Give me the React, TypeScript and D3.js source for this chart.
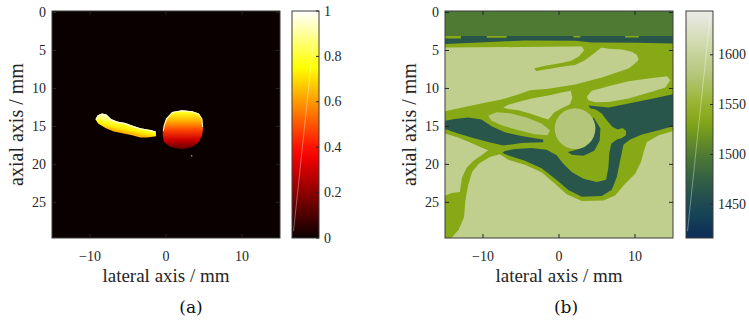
import React from 'react';
import * as d3 from 'd3';

type Pt = [number, number];

// 共通の軸 (mm)
const lateralDomain: [number, number] = [-15, 15];
const axialDomain: [number, number] = [-0.2, 29.7];
const lateralTicks = [-10, 0, 10];
const axialTicks = [0, 5, 10, 15, 20, 25];

// (a) 吸収マップ
const absorptionDomain: [number, number] = [0, 1];
const absorptionTicks = [0, 0.2, 0.4, 0.6, 0.8, 1];
const hotStops = [0, 0.375, 0.75, 1];
const hotColors = ['#0b0000', '#ff0000', '#ffff00', '#ffffff'];
const backgroundAbsorption = 0;

const stripTop: Pt[] = [
  [-9.29, 14.05], [-8.98, 13.53], [-8.41, 13.31], [-7.84, 13.44], [-7.23, 14.01], [-6.44, 14.36],
  [-5.34, 14.54], [-4.46, 14.89], [-3.36, 15.24], [-2.04, 15.46], [-1.34, 15.68],
];
const stripBottom: Pt[] = [
  [-1.3, 16.3], [-2.48, 16.47], [-3.36, 16.47], [-4.46, 16.17], [-5.56, 15.95], [-6.88, 15.68],
  [-7.97, 15.2], [-8.94, 14.63],
];
const stripLevels = [0.88, 0.78, 0.72, 0.64];
const stripRimLevel = 0.97;

const discTop: Pt[] = [
  [-0.42, 15.6], [-0.29, 14.85], [0.02, 13.97], [0.81, 13.09], [2.13, 12.87], [3.45, 13.0],
  [4.32, 13.31], [4.76, 13.97], [4.89, 15.07],
];
const discBottom: Pt[] = [
  [4.76, 16.17], [4.32, 17.05], [3.45, 17.71], [2.13, 18.01], [0.59, 17.71], [-0.29, 17.05], [-0.42, 16.2],
];
const discOffsets = [0, 0.06, 0.25, 0.5, 0.75, 1];
const discLevels = [1, 0.78, 0.65, 0.48, 0.3, 0.13];
const discRimLevel = 0.95;
const speck: Pt = [3.31, 18.8];
const speckLevel = 0.78;

// (b) 音速マップ
const speedDomain: [number, number] = [1416, 1644];
const speedTicks = [1450, 1500, 1550, 1600];
const speedStops = [1416, 1440, 1465, 1500, 1520, 1535, 1555, 1580, 1593, 1615, 1644];
const speedColors = ['#0a2c58', '#174456', '#29564b', '#4f7a34', '#6f9620', '#87a915', '#9bb73a', '#b4c67a', '#c1cf8e', '#d3dcb3', '#ebebe9'];

// 組織クラス: 0 dark, 1 band, 2 mid, 3 inclusion, 4 light
const tissueSpeeds = [1465, 1500, 1535, 1580, 1593];

const fullField: Pt[] = [[-15, -0.2], [15, -0.2], [15, 29.7], [-15, 29.7]];
const topBand: Pt[] = [[-15, -0.2], [15, -0.2], [15, 3.1], [-15, 3.1]];
const topStripe: Pt[] = [
  [-15, 3.41], [-12.9, 3.41], [-12.9, 3.1], [-9.5, 3.1], [-9.5, 3.32], [-6.9, 3.32], [-6.9, 3.1],
  [1.9, 3.1], [1.9, 3.3], [2.8, 3.3], [2.8, 3.1], [8.7, 3.1], [8.7, 3.3], [10.5, 3.3], [10.5, 3.1],
  [15, 3.1], [15, 4.07], [10.0, 3.98], [4.3, 3.94], [2.1, 3.72], [-4.5, 3.67], [-6.9, 3.8],
  [-11.1, 3.98], [-15, 4.16],
];
const upperIsland: Pt[] = [
  [-15, 4.6], [-4.93, 4.55], [2.11, 4.46], [3.87, 4.46], [5.63, 4.6], [6.51, 4.77], [8.27, 4.86],
  [9.59, 5.17], [10.25, 5.61], [10.47, 6.18], [10.12, 6.62], [9.15, 7.37], [5.63, 8.55], [2.11, 9.48],
  [-1.41, 10.05], [-3.83, 10.23], [-5.37, 10.8], [-7.56, 11.46], [-9.76, 11.9], [-11.96, 12.34], [-15, 13.0],
];
const tongue: Pt[] = [
  [3.0, 4.4], [5.8, 4.4], [4.6, 5.4], [3.4, 6.3], [2.1, 6.9], [0.35, 7.15], [-1.4, 7.45], [-3.0, 7.7],
  [-3.25, 7.35], [-1.8, 7.0], [0.3, 6.65], [1.6, 6.35], [2.6, 5.8], [3.3, 5.0],
];
const middleIsland: Pt[] = [
  [-7.34, 12.51], [-6.68, 12.16], [-5.37, 11.77], [-3.61, 11.33], [-1.41, 10.93], [0.35, 10.53],
  [1.54, 10.31], [1.76, 11.19], [1.45, 12.07], [0.35, 12.6], [-0.61, 13.15], [-1.41, 14.1],
  [-2.29, 13.83], [-3.83, 13.31], [-5.37, 12.87], [-6.68, 12.7],
];
const rightIsland: Pt[] = [
  [3.65, 11.11], [4.31, 10.31], [6.51, 9.7], [9.15, 9.04], [11.79, 8.69], [14.21, 8.38], [14.65, 8.91],
  [13.99, 9.87], [12.23, 10.45], [9.15, 11.33], [6.51, 11.77], [4.75, 11.81], [3.87, 11.55],
];
const lowerLeftIsland: Pt[] = [
  [-15, 15.95], [-13.28, 16.47], [-11.52, 17.18], [-10.2, 17.79], [-9.32, 18.15], [-10.2, 18.81],
  [-11.3, 19.55], [-12.18, 20.48], [-12.76, 21.75], [-13.06, 23.65], [-14.08, 23.78], [-15, 24.09],
];
const lowerIsland: Pt[] = [
  [-14.25, 29.8], [-13.2, 28.62], [-12.49, 26.94], [-12.32, 24.75], [-11.96, 22.77], [-11.44, 21.01],
  [-10.56, 19.91], [-9.1, 19.03], [-7.78, 18.67], [-6.68, 19.38], [-4.49, 20.04], [-2.29, 21.05],
  [-0.53, 22.55], [1.01, 23.95], [2.99, 24.83], [5.85, 24.75], [7.39, 24.09], [8.49, 22.77],
  [10.03, 21.23], [10.78, 19.69], [11.13, 18.37], [11.57, 17.05], [13.11, 16.17], [15, 15.59], [15, 29.8],
];
const lensInclusion: Pt[] = [
  [-9.32, 13.61], [-8.22, 13.13], [-6.46, 13.26], [-4.27, 13.83], [-2.29, 14.63], [-1.19, 15.51],
  [-1.49, 16.17], [-3.17, 16.03], [-5.37, 15.51], [-7.56, 14.85], [-8.88, 14.27],
];
const leftChannel: Pt[] = [
  [-15, 14.27], [-13.72, 14.01], [-11.96, 13.83], [-10.2, 14.1], [-8.88, 14.98], [-7.12, 15.77],
  [-4.93, 16.26], [-3.17, 16.56], [-2.07, 16.74], [-2.07, 17.09], [-4.93, 17.18], [-7.34, 17.53],
  [-9.32, 17.05], [-11.52, 16.47], [-13.28, 15.95], [-15, 15.33],
];
const mainChannel: Pt[] = [
  [3.87, 12.25], [6.51, 12.51], [9.15, 11.99], [12.23, 11.37], [15, 10.75], [15, 14.98], [13.11, 15.51],
  [10.91, 16.08], [9.37, 16.74], [8.49, 17.4], [8.05, 19.47], [7.61, 21.67], [6.95, 23.34], [5.63, 24.17],
  [2.99, 24.26], [1.23, 23.38], [-0.31, 22.06], [-2.29, 20.52], [-4.49, 19.51], [-6.46, 18.89],
  [-7.43, 18.5], [-7.12, 18.23], [-5.81, 17.97], [-3.61, 17.84], [-1.63, 18.06], [-0.31, 18.81],
  [0.57, 19.91], [1.67, 21.01], [3.21, 21.89], [4.97, 22.33], [6.2, 22.02], [6.51, 20.35], [6.6, 18.59],
  [6.87, 17.27], [7.61, 16.74], [8.27, 16.52], [8.8, 16.17], [8.84, 15.59], [8.36, 15.2], [7.75, 15.42],
  [7.04, 15.07], [6.29, 14.19], [5.63, 13.31], [4.84, 12.78], [4.09, 12.6],
];
const crescent: Pt[] = [
  [4.53, 13.75], [5.45, 15.29], [5.35, 16.9], [4.65, 18.2], [3.21, 18.85], [1.67, 18.72], [1.15, 18.37],
  [2.11, 18.15], [3.34, 17.71], [4.22, 16.74], [4.62, 15.51], [4.4, 14.27],
];
const roundInclusion = { cx: 2.11, cy: 15.29, r: 2.68 };

// 描画順 (後ろから)
const speedLayers: [Pt[], number][] = [
  [fullField, 2],
  [upperIsland, 4], [middleIsland, 4], [rightIsland, 4], [lowerLeftIsland, 4], [lowerIsland, 4],
  [tongue, 2],
  [lensInclusion, 3],
  [leftChannel, 0], [mainChannel, 0], [crescent, 0], [topStripe, 0],
  [topBand, 1],
];

const FONT = 'Liberation Serif';
const INK = '#262626';
const plotTop = 11;
const plotBottom = 238;
const plotWidth = 228;
const cbWidth = 27;

const hot = d3.scaleLinear<string>().domain(hotStops).range(hotColors).clamp(true);
const speedMap = d3.scaleLinear<string>().domain(speedStops).range(speedColors).clamp(true);

const centroid = (pts: Pt[]): Pt => [d3.mean(pts, d => d[0])!, d3.mean(pts, d => d[1])!];

type Scales = { x: d3.ScaleLinear<number, number>; y: d3.ScaleLinear<number, number> };

function Panel(props: {
  id: string; x0: number; cbX: number; cmap: (v: number) => string; cbDomain: [number, number];
  cbTicks: number[]; caption: string; captionX: number; render: (s: Scales) => React.ReactNode;
}) {
  const { id, x0, cbX, cmap, cbDomain, cbTicks, caption, captionX, render } = props;
  const x = d3.scaleLinear().domain(lateralDomain).range([x0, x0 + plotWidth]);
  const y = d3.scaleLinear().domain(axialDomain).range([plotTop, plotBottom]);
  const c = d3.scaleLinear().domain(cbDomain).range([plotBottom, plotTop]);
  const fmt = d3.format('d');
  const stops = d3.range(0, 1.0001, 0.05);
  const x1 = x0 + plotWidth;
  return (
    <g>
      <defs>
        <clipPath id={`${id}-clip`}>
          <rect x={x0} y={plotTop} width={plotWidth} height={plotBottom - plotTop} />
        </clipPath>
        <linearGradient id={`${id}-cb`} x1="0" y1="1" x2="0" y2="0">
          {stops.map(t => (
            <stop key={t} offset={t} stopColor={cmap(cbDomain[0] + t * (cbDomain[1] - cbDomain[0]))} />
          ))}
        </linearGradient>
      </defs>
      <g clipPath={`url(#${id}-clip)`}>{render({ x, y })}</g>
      <rect x={x0} y={plotTop} width={plotWidth} height={plotBottom - plotTop} fill="none" stroke="#3c3c3c" strokeWidth={1} />
      {lateralTicks.map(t => (
        <g key={t}>
          <line x1={x(t)} x2={x(t)} y1={plotBottom} y2={plotBottom - 4} stroke={INK} />
          <line x1={x(t)} x2={x(t)} y1={plotTop} y2={plotTop + 4} stroke={INK} />
          <text x={x(t)} y={plotBottom + 23} textAnchor="middle" fontSize={14} fill={INK} fontFamily={FONT}>{fmt(t)}</text>
        </g>
      ))}
      {axialTicks.map(t => (
        <g key={t}>
          <line x1={x0} x2={x0 + 4} y1={y(t)} y2={y(t)} stroke={INK} />
          <line x1={x1} x2={x1 - 4} y1={y(t)} y2={y(t)} stroke={INK} />
          <text x={x0 - 6} y={y(t)} textAnchor="end" dominantBaseline="central" fontSize={14} fill={INK} fontFamily={FONT}>{t}</text>
        </g>
      ))}
      <text x={(x0 + x1) / 2} y={282} textAnchor="middle" fontSize={19} fill={INK} fontFamily={FONT}>lateral axis / mm</text>
      <text transform={`translate(${x0 - 36},${(plotTop + plotBottom) / 2}) rotate(-90)`} textAnchor="middle"
        dominantBaseline="central" fontSize={20} fill={INK} fontFamily={FONT}>axial axis / mm</text>

      {/* カラーバー */}
      <rect x={cbX} y={plotTop} width={cbWidth} height={plotBottom - plotTop} fill={`url(#${id}-cb)`} stroke="#3c3c3c" strokeWidth={1} />
      <line x1={cbX + 1.5} y1={c(cbDomain[0] + 0.03 * (cbDomain[1] - cbDomain[0]))} x2={cbX + cbWidth - 3}
        y2={c(cbDomain[0] + 0.97 * (cbDomain[1] - cbDomain[0]))} stroke="#ffffff" strokeOpacity={0.45} strokeWidth={0.8} />
      {cbTicks.map(t => (
        <g key={t}>
          <line x1={cbX + cbWidth} x2={cbX + cbWidth - 3} y1={c(t)} y2={c(t)} stroke={INK} />
          <text x={cbX + cbWidth + 5} y={c(t)} dominantBaseline="central" fontSize={14} fill={INK} fontFamily={FONT}>{String(t)}</text>
        </g>
      ))}
      <text x={captionX} y={313} textAnchor="middle" fontSize={17} fill="#111" fontFamily="DejaVu Serif">{caption}</text>
    </g>
  );
}

function AbsorptionImage({ x, y }: Scales) {
  const closed = d3.line<Pt>().x(d => x(d[0])).y(d => y(d[1])).curve(d3.curveLinearClosed);
  const open = d3.line<Pt>().x(d => x(d[0])).y(d => y(d[1]));
  const stripOutline = [...stripTop, ...stripBottom];
  const discOutline = [...discTop, ...discBottom];
  // 帯の法線方向のグラデーション
  const a = stripTop[0];
  const b = stripTop[stripTop.length - 1];
  const len = Math.hypot(b[0] - a[0], b[1] - a[1]);
  const n: Pt = [-(b[1] - a[1]) / len, (b[0] - a[0]) / len];
  const c0 = centroid(stripTop);
  const c1 = centroid(stripBottom);
  const depth = (c1[0] - c0[0]) * n[0] + (c1[1] - c0[1]) * n[1];
  const g1: Pt = [c0[0] + n[0] * depth, c0[1] + n[1] * depth];
  return (
    <g>
      <defs>
        <linearGradient id="strip-grad" gradientUnits="userSpaceOnUse" x1={x(c0[0])} y1={y(c0[1])} x2={x(g1[0])} y2={y(g1[1])}>
          {stripLevels.map((v, i) => <stop key={i} offset={i / (stripLevels.length - 1)} stopColor={hot(v)} />)}
        </linearGradient>
        <linearGradient id="disc-grad" x1="0" y1="0" x2="0" y2="1">
          {discLevels.map((v, i) => <stop key={i} offset={discOffsets[i]} stopColor={hot(v)} />)}
        </linearGradient>
        <clipPath id="strip-clip"><path d={closed(stripOutline)!} /></clipPath>
        <clipPath id="disc-clip"><path d={closed(discOutline)!} /></clipPath>
      </defs>
      <rect x={x(lateralDomain[0])} y={y(axialDomain[0])} width={x(lateralDomain[1]) - x(lateralDomain[0])}
        height={y(axialDomain[1]) - y(axialDomain[0])} fill={hot(backgroundAbsorption)} />
      <path d={closed(stripOutline)!} fill="url(#strip-grad)" />
      <path d={open(stripTop)!} fill="none" stroke={hot(stripRimLevel)} strokeWidth={2.4} clipPath="url(#strip-clip)" />
      <path d={closed(discOutline)!} fill="url(#disc-grad)" />
      <path d={open(discTop)!} fill="none" stroke={hot(discRimLevel)} strokeWidth={2} clipPath="url(#disc-clip)" />
      <rect x={x(speck[0])} y={y(speck[1])} width={x(speck[0] + 0.15) - x(speck[0])} height={y(speck[1] + 0.15) - y(speck[1])} fill={hot(speckLevel)} />
    </g>
  );
}

function SpeedImage({ x, y }: Scales) {
  const closed = d3.line<Pt>().x(d => x(d[0])).y(d => y(d[1])).curve(d3.curveLinearClosed);
  const layers = speedLayers.map(([pts, k], i) => (
    <path key={i} d={closed(pts)!} fill={speedMap(tissueSpeeds[k])} />
  ));
  return (
    <g>
      {layers.slice(0, -1)}
      <ellipse cx={x(roundInclusion.cx)} cy={y(roundInclusion.cy)} rx={x(roundInclusion.r) - x(0)}
        ry={y(roundInclusion.r) - y(0)} fill={speedMap(tissueSpeeds[3])} />
      {layers[layers.length - 1]}
    </g>
  );
}

export default function App() {
  return (
    <svg width={749} height={320} viewBox="0 0 749 320"
      style={{ position: 'absolute', left: 0, top: 0, background: '#ffffff' }}>
      <Panel id="pa" x0={52} cbX={292} cmap={hot} cbDomain={absorptionDomain} cbTicks={absorptionTicks}
        caption="(a)" captionX={191} render={s => <AbsorptionImage {...s} />} />
      <Panel id="pb" x0={445} cbX={686} cmap={speedMap} cbDomain={speedDomain} cbTicks={speedTicks}
        caption="(b)" captionX={566} render={s => <SpeedImage {...s} />} />
    </svg>
  );
}
